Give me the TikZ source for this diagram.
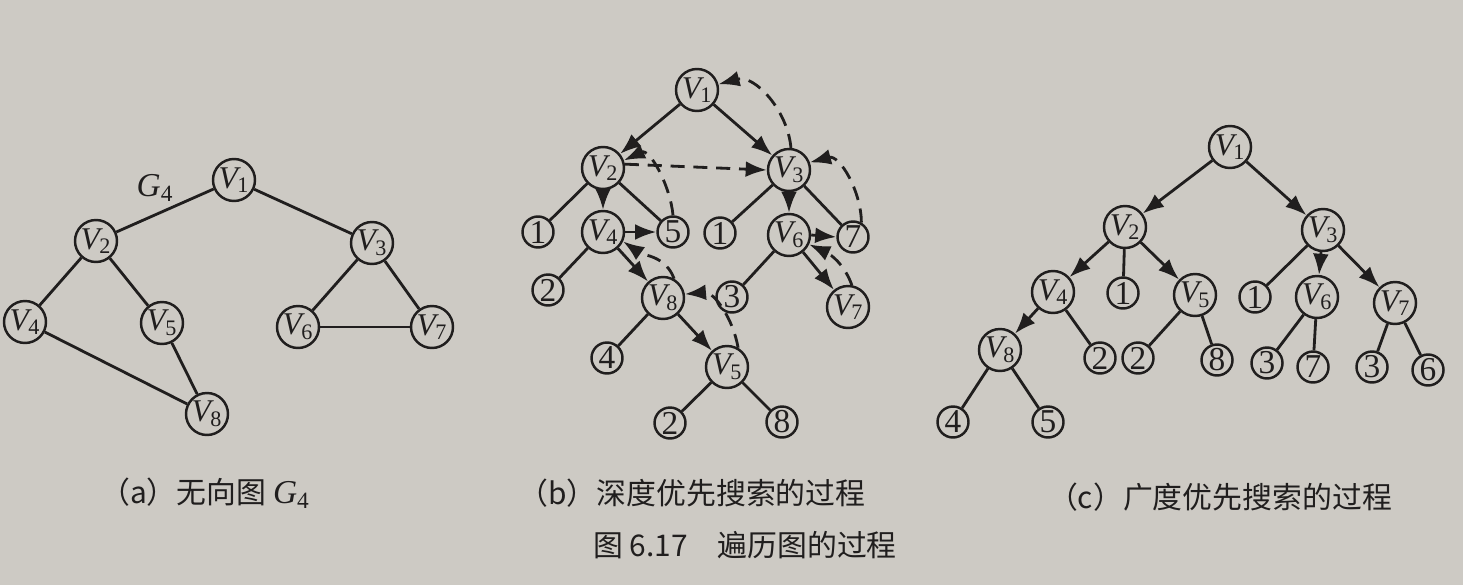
\documentclass[tikz,border=0pt]{standalone}
\usepackage{fontspec}
\setmainfont{Liberation Serif}
\newfontfamily\cjk{Noto Sans CJK SC}
\usetikzlibrary{arrows.meta}
\definecolor{paper}{RGB}{205,202,196}
\definecolor{ink}{RGB}{32,30,30}
\newcommand{\vlab}[1]{\textit{V}\kern-0.12em\textsubscript{#1}}

\begin{document}
\begin{tikzpicture}[x=0.02cm, y=-0.02cm, line width=1.6pt, ink,
  vx/.style={circle, draw, line width=1.4pt, minimum size=0.84cm, inner sep=0pt, font=\fontsize{18}{18}\selectfont},
  nm/.style={circle, draw, line width=1.4pt, minimum size=0.62cm, inner sep=0pt, font=\fontsize{19}{19}\selectfont},
  arr/.style={-{Latex[length=12pt,width=9pt]}},
  ret/.style={arr, dash pattern=on 8pt off 5pt},
  captext/.style={font=\cjk\fontsize{17}{17}\selectfont}]
\fill[paper] (0,0) rectangle (1463,585);
\useasboundingbox (0,0) rectangle (1463,585);

% (a) undirected graph
\node[vx] (a1) at (234,180){\vlab{1}};
\node[vx] (a2) at (96,241){\vlab{2}};
\node[vx] (a3) at (372,243){\vlab{3}};
\node[vx] (a4) at (25,322){\vlab{4}};
\node[vx] (a5) at (162,323){\vlab{5}};
\node[vx] (a6) at (298,327){\vlab{6}};
\node[vx] (a7) at (432,327){\vlab{7}};
\node[vx] (a8) at (207,414){\vlab{8}};
\node[font=\fontsize{19}{19}\selectfont] (g4) at (155,188){\textit{G}\textsubscript{4}};
\draw (a1) -- (a2);
\draw (a1) -- (a3);
\draw (a2) -- (a4);
\draw (a2) -- (a5);
\draw (a4) -- (a8);
\draw (a5) -- (a8);
\draw (a3) -- (a6);
\draw (a3) -- (a7);
\draw (a6) -- (a7);

% (b) depth first
\node[vx] (b1) at (697,90){\vlab{1}};
\node[vx] (b2) at (603,168){\vlab{2}};
\node[vx] (b3) at (789,170){\vlab{3}};
\node[nm] (b2x1) at (538,232){1};
\node[vx] (b4) at (603,232){\vlab{4}};
\node[nm] (b2x5) at (673,232){5};
\node[nm] (b3x1) at (720,233){1};
\node[vx] (b6) at (789,235){\vlab{6}};
\node[nm] (b3x7) at (853,237){7};
\node[nm] (b4x2) at (548,290){2};
\node[vx] (b8) at (663,298){\vlab{8}};
\node[nm] (b6x3) at (732,297){3};
\node[vx] (b7) at (848,307){\vlab{7}};
\node[nm] (b8x4) at (607,358){4};
\node[vx] (b5) at (727,367){\vlab{5}};
\node[nm] (b5x2) at (670,423){2};
\node[nm] (b5x8) at (782,422){8};
\draw[arr] (b1) -- (b2);
\draw[arr] (b1) -- (b3);
\draw (b2) -- (b2x1);
\draw[arr] (b2) -- (b4);
\draw (b2) -- (b2x5);
\draw (b4) -- (b4x2);
\draw[arr] (b4) -- (b8);
\draw (b8) -- (b8x4);
\draw[arr] (b8) -- (b5);
\draw (b5) -- (b5x2);
\draw (b5) -- (b5x8);
\draw (b3) -- (b3x1);
\draw[arr] (b3) -- (b6);
\draw (b3) -- (b3x7);
\draw (b6) -- (b6x3);
\draw[arr] (b6) -- (b7);
\draw[ret] (b2.10) -- (b3.180);
\draw[ret] (b4.east) -- (b2x5.west);
\draw[ret] (b6.east) -- (b3x7.west);
\draw[ret] (b2x5.north) to[out=95,in=25] (b2.20);
\draw[ret] (b8.60) to[out=110,in=-35] (b4.-25);
\draw[ret] (b5.60) to[out=100,in=5] (b8.10);
\draw[ret] (b7.80) to[out=110,in=-25] (b6.-25);
\draw[ret] (b3x7.60) to[out=90,in=15] (b3.20);
\draw[ret] (b3.85) to[out=95,in=15] (b1.15);

% (c) breadth first
\node[vx] (c1) at (1230,147){\vlab{1}};
\node[vx] (c2) at (1125,227){\vlab{2}};
\node[vx] (c3) at (1323,230){\vlab{3}};
\node[vx] (c4) at (1053,292){\vlab{4}};
\node[nm] (c2x1) at (1123,293){1};
\node[vx] (c5) at (1195,295){\vlab{5}};
\node[nm] (c3x1) at (1255,297){1};
\node[vx] (c6) at (1317,297){\vlab{6}};
\node[vx] (c7) at (1395,303){\vlab{7}};
\node[vx] (c8) at (1000,350){\vlab{8}};
\node[nm] (c4x2) at (1100,358){2};
\node[nm] (c5x2) at (1138,358){2};
\node[nm] (c5x8) at (1217,360){8};
\node[nm] (c6x3) at (1267,363){3};
\node[nm] (c6x7) at (1313,367){7};
\node[nm] (c7x3) at (1372,367){3};
\node[nm] (c7x6) at (1428,370){6};
\node[nm] (c8x4) at (953,422){4};
\node[nm] (c8x5) at (1048,422){5};
\draw[arr] (c1) -- (c2);
\draw[arr] (c1) -- (c3);
\draw[arr] (c2) -- (c4);
\draw (c2) -- (c2x1);
\draw[arr] (c2) -- (c5);
\draw (c3) -- (c3x1);
\draw[arr] (c3) -- (c6);
\draw[arr] (c3) -- (c7);
\draw[arr] (c4) -- (c8);
\draw (c4) -- (c4x2);
\draw (c5) -- (c5x2);
\draw (c5) -- (c5x8);
\draw (c6) -- (c6x3);
\draw (c6) -- (c6x7);
\draw (c7) -- (c7x3);
\draw (c7) -- (c7x6);
\draw (c8) -- (c8x4);
\draw (c8) -- (c8x5);

% captions
\node[captext] (capa) at (205,493){（a）无向图 {\rmfamily\fontsize{19}{19}\selectfont\textit{G}\textsubscript{4}}};
\node[captext] (capb) at (692,493){（b）深度优先搜索的过程};
\node[captext] (capc) at (1220,497){（c）广度优先搜索的过程};
\node[captext] (capf) at (745,545){图 6.17\quad 遍历图的过程};
\end{tikzpicture}
\end{document}
